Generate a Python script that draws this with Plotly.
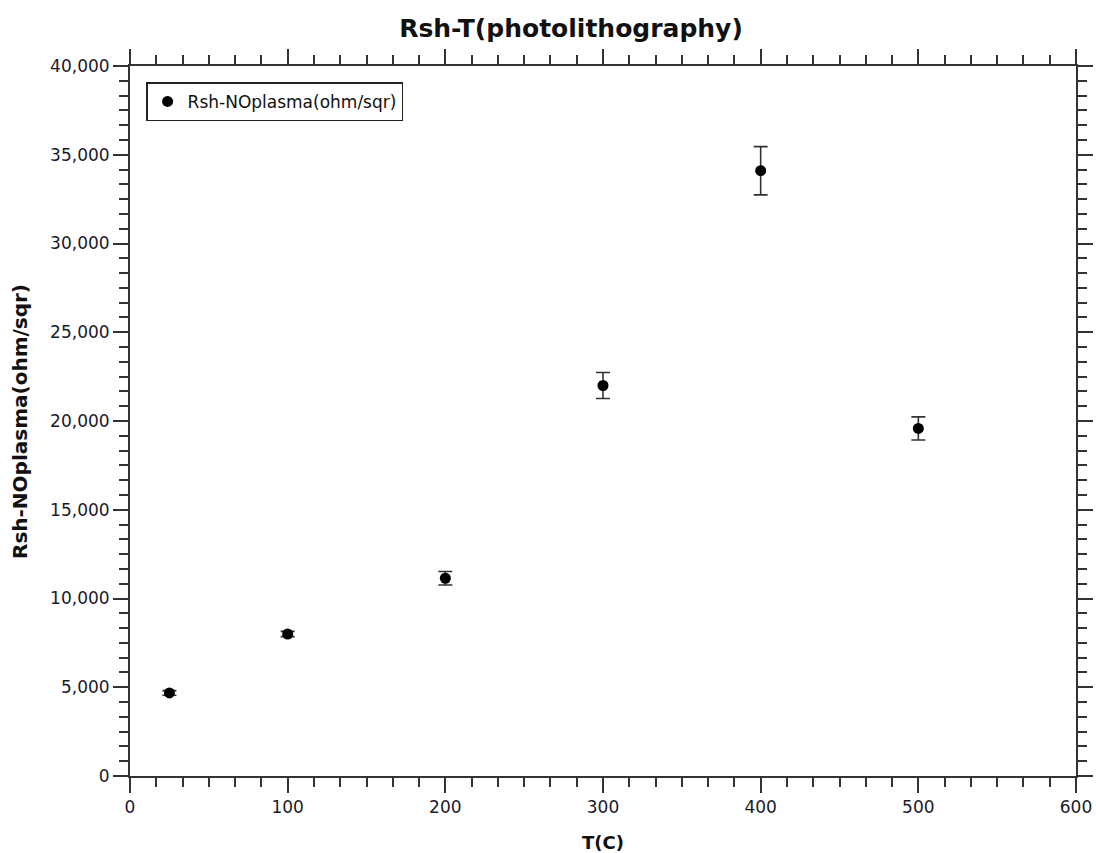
import plotly.graph_objects as go

temps = [25, 100, 200, 300, 400, 500]
rsh = [4680, 8000, 11140, 22000, 34100, 19580]
rsh_err = [130, 150, 380, 730, 1360, 650]

series_name = "Rsh-NOplasma(ohm/sqr)"
x_ticks = [0, 100, 200, 300, 400, 500, 600]
y_ticks = [0, 5000, 10000, 15000, 20000, 25000, 30000, 35000, 40000]

FONT = "DejaVu Sans"
AX = "#333333"

fig = go.Figure()
fig.add_trace(go.Scatter(
    x=temps, y=rsh, mode="markers", name=series_name,
    marker=dict(color="black", size=11, symbol="circle"),
    error_y=dict(type="data", array=rsh_err, visible=True,
                 color=AX, thickness=1.6, width=7),
    showlegend=True,
))

axis_common = dict(
    showline=True, linecolor=AX, linewidth=2, mirror="ticks",
    ticks="outside", ticklen=15, tickwidth=1.6, tickcolor=AX,
    showgrid=False, zeroline=False,
    tickfont=dict(family=FONT, size=17, color="#1a1a2a"),
)

fig.update_xaxes(range=[0, 600], tickvals=x_ticks, **axis_common,
                 minor=dict(dtick=100 / 6, tick0=0, ticklen=9, tickwidth=1.6,
                            tickcolor=AX, ticks="outside", showgrid=False))
fig.update_yaxes(range=[0, 40000], tickvals=y_ticks, tickformat=",", **axis_common,
                 minor=dict(dtick=5000 / 6, tick0=0, ticklen=9, tickwidth=1.6,
                            tickcolor=AX, ticks="outside", showgrid=False))

fig.update_layout(
    width=1096, height=853,
    paper_bgcolor="white", plot_bgcolor="white",
    margin=dict(l=130, r=20, t=66, b=77, autoexpand=False),
    title=dict(text="<b>Rsh-T(photolithography)</b>", x=571 / 1096, xanchor="center",
               y=1 - 28 / 853, yanchor="middle",
               font=dict(family=FONT, size=25, color="#111")),
    legend=dict(x=0.017, y=0.977, xanchor="left", yanchor="top",
                bordercolor="#222", borderwidth=1.5, bgcolor="white",
                font=dict(family=FONT, size=17, color="#111"),
                itemwidth=30),
    showlegend=True,
    annotations=[
        dict(text="<b>T(C)</b>", xref="paper", yref="paper", x=0.5, y=-0.093,
             xanchor="center", yanchor="middle", showarrow=False,
             font=dict(family=FONT, size=18, color="#111")),
        dict(text="<b>Rsh-NOplasma(ohm/sqr)</b>", xref="paper", yref="paper",
             x=-0.1163, y=0.5, xanchor="center", yanchor="middle", textangle=-90,
             showarrow=False, font=dict(family=FONT, size=20, color="#111")),
    ],
)

post = ("document.documentElement.style.margin='0';"
        "document.documentElement.style.overflow='hidden';"
        "document.body.style.margin='0';"
        "document.body.style.overflow='hidden';")

fig.write_html("out.html", post_script=post, config={"displayModeBar": False})
